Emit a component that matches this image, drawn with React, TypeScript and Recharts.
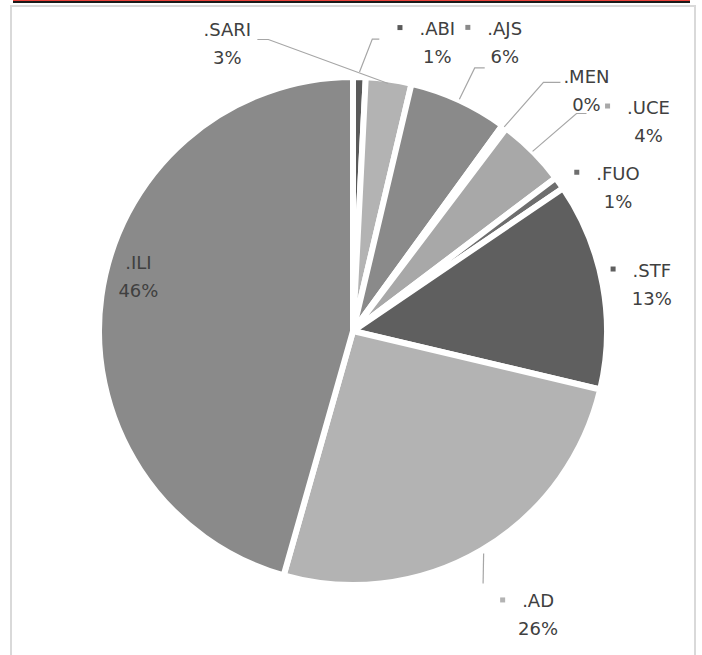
import React from "react";
import { PieChart, Pie, Cell } from "recharts";

// slices, clockwise from 12 o'clock
const NAMES = [".ABI", ".SARI", ".AJS", ".MEN", ".UCE", ".FUO", ".STF", ".AD", ".ILI"];
const SHARES = [0.8, 2.9, 6.3, 0.3, 4.4, 0.8, 13.2, 25.7, 45.6];
const COLORS = ["#5a5a5a", "#b3b3b3", "#8a8a8a", "#9a9a9a", "#a8a8a8", "#6e6e6e", "#5f5f5f", "#b3b3b3", "#8a8a8a"];
const SHOW_KEY = [true, false, true, false, true, true, true, true, false];

const FONT = '"DejaVu Sans", sans-serif';
const FONT_SIZE = 18;
const LINE_GAP = 28;
const RAD = Math.PI / 180;

// label placement relative to the point where the slice's mid angle meets the rim
// dx/dy: name text centre / first baseline; lead: leader start (rel. to text) + elbow run + end radius
type Layout = { dx: number; dy: number; lead?: { x: number; y: number; run: number; r: number } };
const LAYOUT: Record<string, Layout> = {
  ".ABI": { dx: 78, dy: -45, lead: { x: -58, y: 4, run: -7, r: 259 } },
  ".SARI": { dx: -161, dy: -47, lead: { x: 30, y: 4, run: 11, r: 250 } },
  ".AJS": { dx: 47, dy: -68, lead: { x: -20, y: 33, run: -10, r: 255 } },
  ".MEN": { dx: 84, dy: -46, lead: { x: -26, y: -1, run: -17, r: 254 } },
  ".UCE": { dx: 118, dy: -40, lead: { x: -62, y: 0, run: -10, r: 254 } },
  ".FUO": { dx: 61, dy: -5 },
  ".STF": { dx: 52, dy: -9 },
  ".AD": { dx: 58, dy: 60, lead: { x: -55, y: -24, run: 0, r: 258 } },
  ".ILI": { dx: 34, dy: -27 },
};

const data = NAMES.map((name, i) => ({ name, value: SHARES[i] }));

let ctx: CanvasRenderingContext2D | null = null;
function textWidth(s: string) {
  if (!ctx) ctx = document.createElement("canvas").getContext("2d");
  if (!ctx) return s.length * FONT_SIZE * 0.6;
  ctx.font = `${FONT_SIZE}px ${FONT}`;
  return ctx.measureText(s).width;
}

const RIM = 251;

function renderLabel(props: any) {
  const { cx, cy, midAngle, percent, index } = props;
  const name = NAMES[index];
  const lay = LAYOUT[name];
  const cos = Math.cos(-midAngle * RAD);
  const sin = Math.sin(-midAngle * RAD);
  const ex = cx + RIM * cos;
  const ey = cy + RIM * sin;
  const tx = ex + lay.dx;
  const ty = ey + lay.dy;
  const w = textWidth(name);
  let leader = null;
  if (lay.lead) {
    const sx = tx + lay.lead.x;
    const sy = ty + lay.lead.y;
    const px = cx + lay.lead.r * cos;
    const py = cy + lay.lead.r * sin;
    leader = (
      <polyline
        points={`${sx},${sy} ${sx + lay.lead.run},${sy} ${px},${py}`}
        fill="none"
        stroke="#a6a6a6"
        strokeWidth={1.2}
      />
    );
  }
  return (
    <g key={`lbl-${index}`}>
      {leader}
      {SHOW_KEY[index] && (
        <rect x={tx - w / 2 - 22} y={ty - 10} width={5} height={5} fill={COLORS[index]} />
      )}
      <text x={tx} y={ty} textAnchor="middle" fontFamily={FONT} fontSize={FONT_SIZE} fill="#404040">
        {name}
      </text>
      <text x={tx} y={ty + LINE_GAP} textAnchor="middle" fontFamily={FONT} fontSize={FONT_SIZE} fill="#404040">
        {`${Math.round(percent * 100)}%`}
      </text>
    </g>
  );
}

export default function App() {
  return (
    <div style={{ position: "absolute", left: 0, top: 0, width: 702, height: 655, background: "#fff", overflow: "hidden" }}>
      <div style={{ position: "absolute", left: 13, top: 0, width: 677, height: 1, background: "#e8403a" }} />
      <div style={{ position: "absolute", left: 13, top: 1, width: 677, height: 2, background: "#1a1a1a" }} />
      <div
        style={{
          position: "absolute",
          left: 10,
          top: 5,
          width: 686,
          height: 700,
          border: "2px solid #d9d9d9",
          boxSizing: "border-box",
        }}
      />
      <div style={{ position: "absolute", left: 0, top: 0 }}>
        <PieChart width={702} height={655} margin={{ top: 0, right: 0, bottom: 0, left: 0 }}>
          <Pie
            data={data}
            dataKey="value"
            nameKey="name"
            cx={353}
            cy={331}
            outerRadius={254}
            startAngle={90}
            endAngle={-270}
            stroke="#ffffff"
            strokeWidth={6}
            label={renderLabel}
            labelLine={false}
            isAnimationActive={false}
          >
            {data.map((d, i) => (
              <Cell key={d.name} fill={COLORS[i]} />
            ))}
          </Pie>
        </PieChart>
      </div>
    </div>
  );
}
